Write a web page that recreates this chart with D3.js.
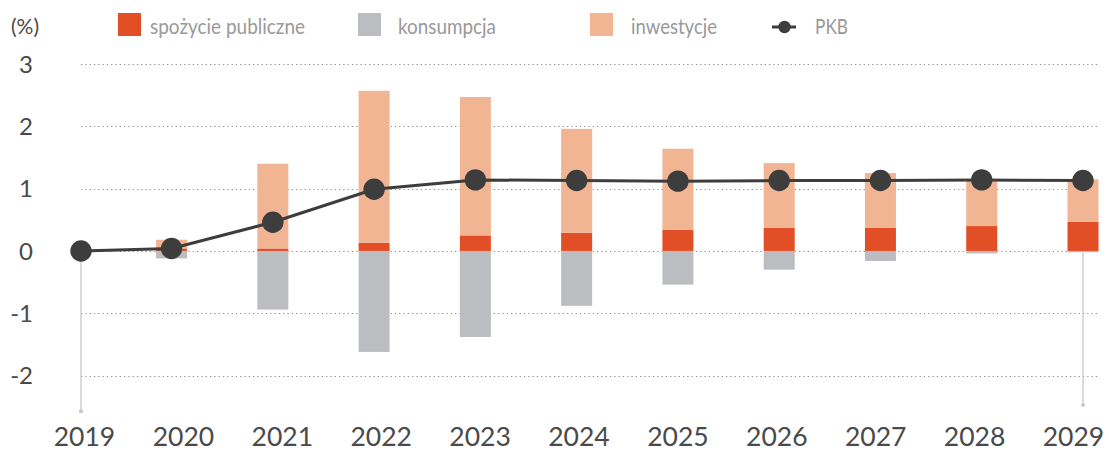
<!DOCTYPE html>
<html>
<head>
<meta charset="utf-8">
<script src="https://cdn.jsdelivr.net/npm/d3@7"></script>
<style>
  html, body { margin: 0; padding: 0; background: #fff; }
  svg { display: block; font-family: Lato, "Open Sans", sans-serif; font-weight: 400; }
</style>
</head>
<body>
<svg id="chart" width="1109" height="450"></svg>
<script>
// Contributions to GDP growth, percentage points
const years = [2019, 2020, 2021, 2022, 2023, 2024, 2025, 2026, 2027, 2028, 2029];
const spozycie = [0, 0.04, 0.04, 0.13, 0.25, 0.29, 0.34, 0.37, 0.37, 0.40, 0.47];
const inwestycje = [0, 0.14, 1.36, 2.44, 2.22, 1.67, 1.30, 1.04, 0.88, 0.75, 0.68];
const konsumpcja = [0, -0.12, -0.94, -1.62, -1.38, -0.88, -0.54, -0.30, -0.16, -0.04, -0.02];
const pkb = [0, 0.04, 0.46, 0.99, 1.14, 1.13, 1.12, 1.13, 1.13, 1.14, 1.13];
const yTicks = [-2, -1, 0, 1, 2, 3];
const guideYears = [2019, 2029];
const guideEnds = [-2.57, -2.47];
const legendItems = [
  { label: "spożycie publiczne", kind: "rect", color: "#E24F27" },
  { label: "konsumpcja", kind: "rect", color: "#BCBDC1" },
  { label: "inwestycje", kind: "rect", color: "#F2B594" },
  { label: "PKB", kind: "line", color: "#3D3D3D" }
];

const svg = d3.select("#chart");
const plotLeft = 81, plotRight = 1099;

const x = d3.scalePoint().domain(years).range([70.3, 1083]);
const xPos = yr => Math.max(x(yr), plotLeft);
const xLabel = d3.scalePoint().domain(years).range([84.5, 1073.5]);
const y = d3.scaleLinear().domain([-2.6, 3]).range([413, 64]);

const barW = 31;

// Horizontal dotted grid
const grid = svg.append("g");
grid.selectAll("line").data(yTicks).join("line")
  .attr("x1", plotLeft).attr("x2", plotRight)
  .attr("y1", d => Math.round(y(d)) + 0.5).attr("y2", d => Math.round(y(d)) + 0.5)
  .attr("stroke", "#8f8f8f").attr("stroke-width", 1.2)
  .attr("stroke-dasharray", "1.3 3");

// Y tick labels
svg.append("g").selectAll("text").data(yTicks).join("text")
  .attr("x", 33).attr("y", d => y(d)).attr("dy", "0.36em")
  .attr("text-anchor", "end")
  .attr("font-size", 24).attr("fill", "#4a4a4a")
  .text(d => d);

svg.append("text").attr("x", 11).attr("y", 34)
  .attr("font-size", 21).attr("fill", "#4a4a4a").text("(%)");

// X labels
svg.append("g").selectAll("text").data(years).join("text")
  .attr("x", d => xLabel(d)).attr("y", 445.5)
  .attr("text-anchor", "middle")
  .attr("font-size", 26.5).attr("fill", "#4a4a4a")
  .text(d => d);

// Stacked bars
const rows = years.map((yr, i) => ({ yr, s: spozycie[i], inw: inwestycje[i], k: konsumpcja[i] }));
const bars = svg.append("g");
bars.selectAll("rect.k").data(rows.filter(d => d.k !== 0)).join("rect").attr("class", "k")
  .attr("x", d => x(d.yr) - barW / 2).attr("width", barW)
  .attr("y", y(0)).attr("height", d => y(d.k) - y(0))
  .attr("fill", legendItems[1].color);
bars.selectAll("rect.s").data(rows.filter(d => d.s !== 0)).join("rect").attr("class", "s")
  .attr("x", d => x(d.yr) - barW / 2).attr("width", barW)
  .attr("y", d => y(d.s)).attr("height", d => y(0) - y(d.s))
  .attr("fill", legendItems[0].color);
bars.selectAll("rect.i").data(rows.filter(d => d.inw !== 0)).join("rect").attr("class", "i")
  .attr("x", d => x(d.yr) - barW / 2).attr("width", barW)
  .attr("y", d => y(d.s + d.inw)).attr("height", d => y(d.s) - y(d.s + d.inw))
  .attr("fill", legendItems[2].color);

// Vertical guides at the ends of the series
const guides = svg.append("g");
guideYears.forEach((yr, i) => {
  guides.append("line")
    .attr("x1", xPos(yr)).attr("x2", xPos(yr))
    .attr("y1", y(0)).attr("y2", y(guideEnds[i]))
    .attr("stroke", "#c8c8c8").attr("stroke-width", 1.3);
  guides.append("circle")
    .attr("cx", xPos(yr)).attr("cy", y(guideEnds[i])).attr("r", 2)
    .attr("fill", "#c8c8c8");
});

// GDP line and markers
const pts = years.map((yr, i) => [xPos(yr), y(pkb[i])]);
svg.append("path").datum(pts)
  .attr("d", d3.line())
  .attr("fill", "none").attr("stroke", "#3D3D3D").attr("stroke-width", 3);
svg.append("g").selectAll("circle").data(pts).join("circle")
  .attr("cx", d => d[0]).attr("cy", d => d[1]).attr("r", 10.7)
  .attr("fill", "#3D3D3D");

// Legend
const legendX = [118, 358, 590, 772];
const legendTextX = [150, 398, 631, 815];
const legendTextW = [155, 98, 86, 33];
const lg = svg.append("g");
legendItems.forEach((it, i) => {
  if (it.kind === "rect") {
    lg.append("rect").attr("x", legendX[i]).attr("y", 13)
      .attr("width", 23).attr("height", 23).attr("fill", it.color);
  } else {
    lg.append("line").attr("x1", legendX[i]).attr("x2", legendX[i] + 24)
      .attr("y1", 27).attr("y2", 27).attr("stroke", it.color).attr("stroke-width", 3);
    lg.append("circle").attr("cx", legendX[i] + 12.5).attr("cy", 27).attr("r", 6.2)
      .attr("fill", it.color);
  }
  lg.append("text").attr("x", legendTextX[i]).attr("y", 34)
    .attr("font-size", 21).attr("fill", "#999999")
    .attr("textLength", legendTextW[i]).attr("lengthAdjust", "spacingAndGlyphs")
    .text(it.label);
});
</script>
</body>
</html>
